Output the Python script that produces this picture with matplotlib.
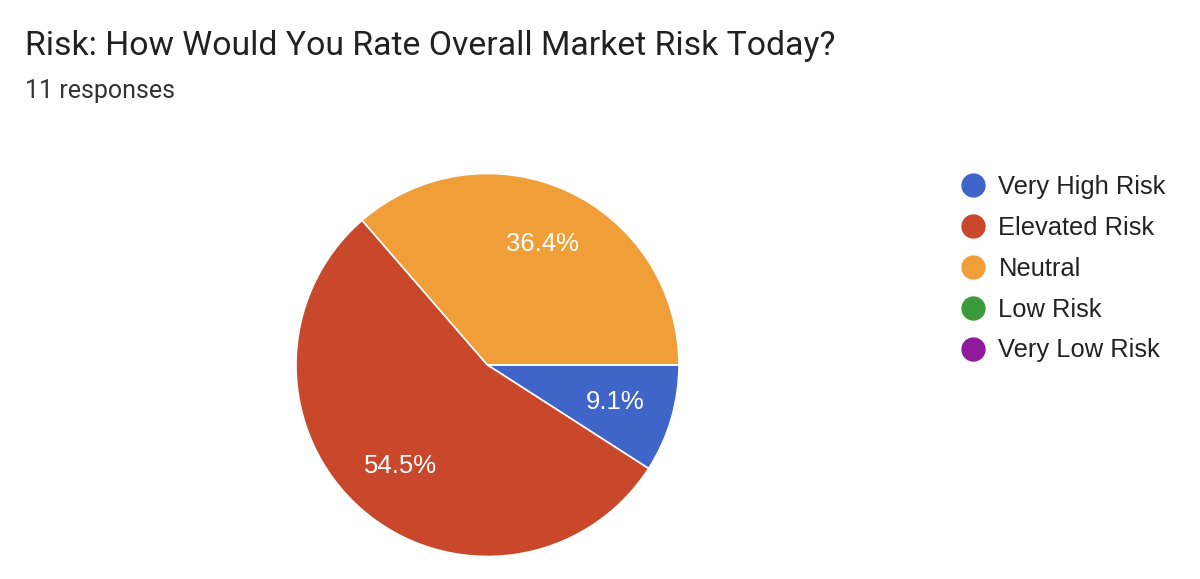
import matplotlib
matplotlib.use("Agg")
from matplotlib import pyplot as plt
from matplotlib.lines import Line2D

title = "Risk: How Would You Rate Overall Market Risk Today?"
subtitle = "11 responses"
categories = ["Very High Risk", "Elevated Risk", "Neutral", "Low Risk", "Very Low Risk"]
counts = [1, 6, 4, 0, 0]
colors = ["#4065c8", "#c9472a", "#f09f38", "#3d9a3a", "#8e1a9b"]

W, H = 1200, 579
fig = plt.figure(figsize=(W / 100, H / 100), dpi=100)
fig.patch.set_facecolor("white")

# pie axes: centre (487.5, 365) px from top, radius ~191.5 px
cx, cy, r = 487.5, 365, 191.5
ax = fig.add_axes([(cx - r) / W, (H - cy - r) / H, 2 * r / W, 2 * r / H])


def pct(p):
    return f"{p:.1f}%" if p > 0 else ""


wedges, texts, autotexts = ax.pie(
    counts,
    colors=colors,
    startangle=0,
    counterclock=False,
    radius=1,
    autopct=pct,
    pctdistance=0.695,
    wedgeprops=dict(edgecolor="white", linewidth=1.2),
    textprops=dict(color="white", fontsize=18.5, family="Liberation Sans"),
)
ax.set_xlim(-1, 1)
ax.set_ylim(-1, 1)
ax.set_aspect("equal")
ax.axis("off")

fig.text(25 / W, 1 - 46 / H, title, fontsize=24.3, family="Roboto",
         color="#212121", va="center", ha="left")
fig.text(25 / W, 1 - 91 / H, subtitle, fontsize=18, family="Roboto",
         color="#333333", va="center", ha="left")

handles = [Line2D([], [], linestyle="none", marker="o", markersize=16.5,
                  markerfacecolor=c, markeredgecolor=c) for c in colors]
leg = fig.legend(handles, categories, loc="upper left",
                 bbox_to_anchor=(958 / W, 1 - 175 / H), frameon=False,
                 prop=dict(family="Liberation Sans", size=18.4),
                 labelspacing=0.66, handletextpad=0.38, handlelength=1.2,
                 borderaxespad=0, borderpad=0)
for t in leg.get_texts():
    t.set_color("#222222")

fig.savefig("out.png", dpi=100)
